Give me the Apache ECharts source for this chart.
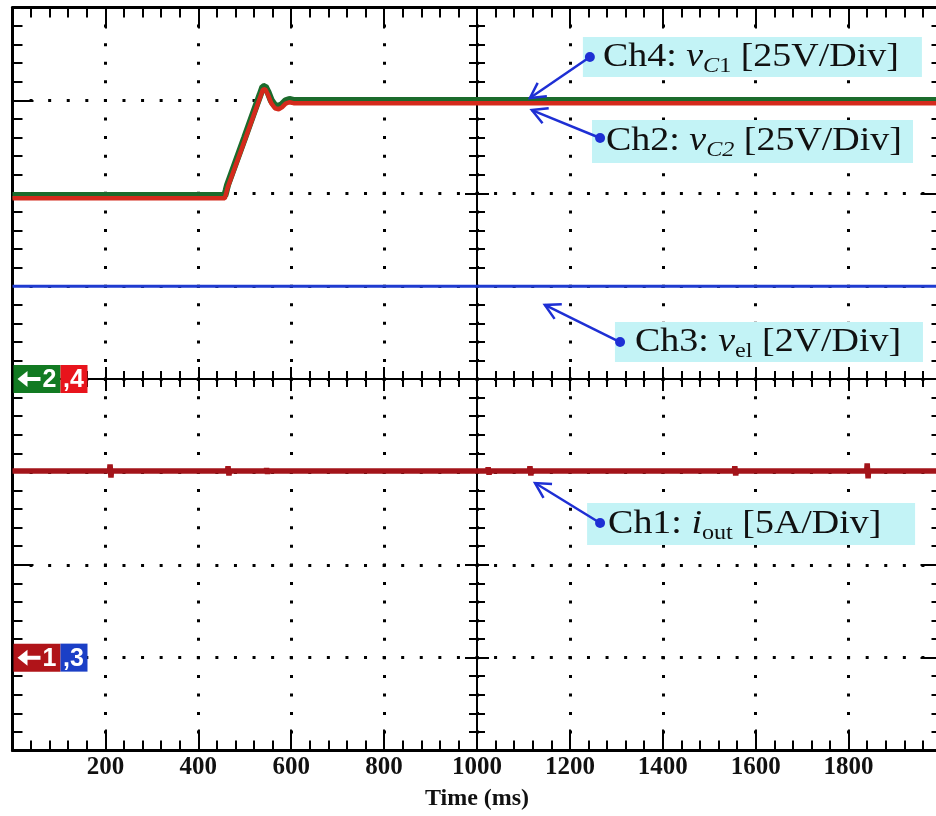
<!DOCTYPE html>
<html>
<head>
<meta charset="utf-8">
<title>Time (ms)</title>
<script src="https://cdn.jsdelivr.net/npm/echarts@6/dist/echarts.min.js"></script>
<style>
html, body { margin: 0; padding: 0; background: #fff; }
#main { width: 936px; height: 816px; }
</style>
</head>
<body>
<div id="main"></div>
<script>
'use strict';
// scope settings: time in ms, vertical in divisions (8 div)
var timeRange = [0, 2000];
var timeStep = 200;
var divRange = [0, 8];

// Ch4 (green) / Ch2 (red): step of the capacitor voltages
var rampTime = [0, 457, 460, 463, 500, 525, 533, 539, 544, 550, 557, 565, 573, 580, 588, 596, 605, 640, 2000];
var ch4Vals  = [5.975, 5.975, 6.03, 6.09, 6.60, 6.95, 7.06, 7.145, 7.15, 7.09, 7.00, 6.945, 6.935, 6.955, 6.995, 7.01, 7.0, 7.0, 7.0];
var ch2Vals  = [5.945, 5.945, 6.0, 6.06, 6.57, 6.92, 7.03, 7.115, 7.12, 7.06, 6.97, 6.915, 6.905, 6.925, 6.965, 6.98, 6.97, 6.97, 6.97];

// Ch3 (blue)
var ch3Time = [0, 2000];
var ch3Vals = [5.0, 5.0];

// Ch1 (dark red) with the small spikes
var ch1Time = [0, 209, 210, 212, 213, 463, 464, 466, 467, 546, 547, 549, 550, 1023, 1024, 1026, 1027,
               1113, 1114, 1116, 1117, 1554, 1555, 1557, 1558, 1839, 1840, 1842, 1843, 2000];
var ch1Vals = [3.01, 3.01, 3.08, 2.94, 3.01, 3.01, 3.06, 2.96, 3.01, 3.01, 3.04, 2.98, 3.01, 3.01, 3.05, 2.97, 3.01,
               3.01, 3.06, 2.96, 3.01, 3.01, 3.06, 2.96, 3.01, 3.01, 3.09, 2.93, 3.01, 3.01];

// channel notes (box corner, dot, arrow tip in data coords)
var noteTexts = [
	'{n|Ch4: }{i|v}{si|C}{s|1}{n| [25V/Div]}',
	'{n|Ch2: }{i|v}{si|C2}{n| [25V/Div]}',
	'{n|Ch3: }{i|v}{s|el}{n| [2V/Div]}',
	'{n|Ch1: }{i|i}{s|out}{n| [5A/Div]}'
];
var noteBox = [[1228, 7.682], [1247.6, 6.789], [1297, 4.614], [1237, 2.665]];
var noteDot = [[1243, 7.467], [1265, 6.595], [1308, 4.398], [1265, 2.45]];
var noteTip = [[1114, 7.026], [1118, 6.896], [1146, 4.797], [1125, 2.88]];

// channel markers on the left edge
var markerLevels = [4, 1];
var markerTexts = [['2', ',4'], ['1', ',3']];
var markerColors = [['#127A22', '#E8141C'], ['#B01419', '#1B3FC6']];

function zip(xs, ys) {
	return xs.map(function (x, i) { return [x, ys[i]]; });
}

var black = '#000';
var dotted = { color: black, width: 3, type: [3, 15.58], dashOffset: 1.5, cap: 'butt' };
var serif = '"Liberation Serif", "DejaVu Serif", serif';
var sans = '"Liberation Sans", "DejaVu Sans", sans-serif';

function frameAxis(extra) {
	var base = {
		type: 'value',
		axisLine: { show: true, onZero: false, lineStyle: { color: black, width: 3 } },
		axisTick: { show: true, inside: true, length: 21, lineStyle: { color: black, width: 2 } },
		minorTick: { show: true, splitNumber: 5, length: 10, lineStyle: { color: black, width: 2 } },
		axisLabel: { show: false },
		splitLine: { show: false }
	};
	return Object.assign(base, extra);
}
function centerAxis(extra, inside) {
	var base = {
		type: 'value',
		axisLine: { show: true, onZero: false, lineStyle: { color: black, width: 2 } },
		axisTick: { show: true, inside: inside, length: 12, lineStyle: { color: black, width: 2 } },
		minorTick: { show: true, splitNumber: 5, length: 8, lineStyle: { color: black, width: 2 } },
		axisLabel: { show: false },
		splitLine: { show: false }
	};
	return Object.assign(base, extra);
}

var xBase = { min: timeRange[0], max: timeRange[1], interval: timeStep };
var yBase = { min: divRange[0], max: divRange[1], interval: 1 };

var chart = echarts.init(document.getElementById('main'));
chart.setOption({
	animation: false,
	backgroundColor: '#fff',
	grid: { left: 12.5, top: 7.5, width: 929, height: 743, outerBoundsMode: 'none' },
	xAxis: [
		frameAxis(Object.assign({}, xBase, {
			position: 'bottom',
			axisLabel: {
				show: true, showMinLabel: false, showMaxLabel: false, margin: 5,
				color: '#111', fontFamily: serif, fontWeight: 'bold', fontSize: 25,
				formatter: function (v) { return String(v); }
			},
			splitLine: { show: true, lineStyle: dotted },
			name: 'Time (ms)', nameLocation: 'middle', nameGap: 36,
			nameTextStyle: { color: '#111', fontFamily: serif, fontWeight: 'bold', fontSize: 24 }
		})),
		frameAxis(Object.assign({}, xBase, { position: 'top' })),
		centerAxis(Object.assign({}, xBase, { position: 'bottom', offset: -371.5 }), true),
		centerAxis(Object.assign({}, xBase, { position: 'bottom', offset: -371.5 }), false)
	],
	yAxis: [
		frameAxis(Object.assign({}, yBase, { position: 'left', splitLine: { show: true, lineStyle: dotted } })),
		frameAxis(Object.assign({}, yBase, { position: 'right' })),
		centerAxis(Object.assign({}, yBase, { position: 'left', offset: -464.5 }), true),
		centerAxis(Object.assign({}, yBase, { position: 'left', offset: -464.5 }), false)
	],
	series: [
		{ type: 'line', name: 'Ch4', data: zip(rampTime, ch4Vals), symbol: 'none', silent: true, z: 3,
			lineStyle: { color: '#1B6B2C', width: 7 } },
		{ type: 'line', name: 'Ch2', data: zip(rampTime, ch2Vals), symbol: 'none', silent: true, z: 4,
			lineStyle: { color: '#D42A1C', width: 4.5 } },
		{ type: 'line', name: 'Ch3', data: zip(ch3Time, ch3Vals), symbol: 'none', silent: true, z: 3,
			lineStyle: { color: '#1F3BD0', width: 3 } },
		{ type: 'line', name: 'Ch1', data: zip(ch1Time, ch1Vals), symbol: 'none', silent: true, z: 3,
			lineStyle: { color: '#A3141A', width: 5.5 } }
	]
});

// annotations, placed from data coords
function px(p) {
	return chart.convertToPixel({ xAxisIndex: 0, yAxisIndex: 0 }, p);
}
var blue = '#1E2FD4';
var boxSize = [[339, 40], [321, 43], [308, 40], [328, 42]];
var textPad = [20, 14, 20, 21];
var rich = {
	n: { fontSize: 33, fontFamily: serif, lineHeight: 40, fill: '#111' },
	i: { fontSize: 33, fontFamily: serif, fontStyle: 'italic', lineHeight: 40, fill: '#111' },
	s: { fontSize: 21, fontFamily: serif, lineHeight: 24, verticalAlign: 'bottom', fill: '#111' },
	si: { fontSize: 21, fontFamily: serif, fontStyle: 'italic', lineHeight: 24, verticalAlign: 'bottom', fill: '#111' }
};
var graphic = [];
noteTexts.forEach(function (txt, k) {
	var b = px(noteBox[k]), d = px(noteDot[k]), t = px(noteTip[k]);
	var w = boxSize[k][0], h = boxSize[k][1];
	graphic.push({ type: 'rect', z: 10, shape: { x: b[0], y: b[1], width: w, height: h }, style: { fill: '#C3F3F6' } });
	graphic.push({ type: 'line', z: 11, shape: { x1: d[0], y1: d[1], x2: t[0], y2: t[1] },
		style: { stroke: blue, lineWidth: 2.5 } });
	var dx = d[0] - t[0], dy = d[1] - t[1], len = Math.sqrt(dx * dx + dy * dy);
	var ux = dx / len, uy = dy / len, a = 0.5, L = 17;
	var p1 = [t[0] + L * (ux * Math.cos(a) - uy * Math.sin(a)), t[1] + L * (ux * Math.sin(a) + uy * Math.cos(a))];
	var p2 = [t[0] + L * (ux * Math.cos(-a) - uy * Math.sin(-a)), t[1] + L * (ux * Math.sin(-a) + uy * Math.cos(-a))];
	graphic.push({ type: 'polyline', z: 11, shape: { points: [p1, t, p2] },
		style: { stroke: blue, lineWidth: 2.5, fill: null } });
	graphic.push({ type: 'circle', z: 12, shape: { cx: d[0], cy: d[1], r: 5 }, style: { fill: blue } });
	graphic.push({ type: 'text', z: 12, x: b[0] + textPad[k], y: b[1] + h / 2, scaleX: 1.15,
		style: { text: txt, rich: rich, fill: '#111', align: 'left', verticalAlign: 'middle',
			fontSize: 33, fontFamily: serif } });
});
markerLevels.forEach(function (lv, k) {
	var p = px([0, lv]);
	var x0 = p[0] + 1, y0 = p[1] - 14;
	graphic.push({ type: 'rect', z: 10, shape: { x: x0, y: y0, width: 47, height: 28 }, style: { fill: markerColors[k][0] } });
	graphic.push({ type: 'rect', z: 10, shape: { x: x0 + 47, y: y0, width: 27, height: 28 }, style: { fill: markerColors[k][1] } });
	// left pointing arrow
	graphic.push({ type: 'polygon', z: 11, shape: { points: [
		[x0 + 4, p[1]], [x0 + 14, y0 + 6], [x0 + 14, p[1] - 2], [x0 + 27, p[1] - 2],
		[x0 + 27, p[1] + 2], [x0 + 14, p[1] + 2], [x0 + 14, y0 + 22]] }, style: { fill: '#fff' } });
	graphic.push({ type: 'text', z: 11, x: x0 + 36, y: p[1] + 1,
		style: { text: markerTexts[k][0], fill: '#fff', align: 'center', verticalAlign: 'middle',
			font: 'bold 25px ' + sans } });
	graphic.push({ type: 'text', z: 11, x: x0 + 60, y: p[1] + 1,
		style: { text: markerTexts[k][1], fill: '#fff', align: 'center', verticalAlign: 'middle',
			font: 'bold 25px ' + sans } });
});
chart.setOption({ graphic: graphic });
</script>
</body>
</html>
